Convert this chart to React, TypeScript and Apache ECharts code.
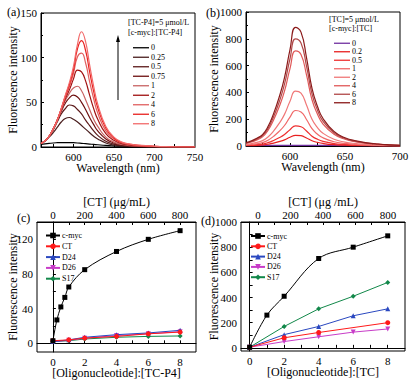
import React, { useEffect, useRef } from 'react';
import * as echarts from 'echarts';

const FONT = '"Liberation Serif", "Times New Roman", Times, serif';

// ---------- Panel (a): TC-P4 spectra ----------
const wlA = [560, 565, 570, 575, 580, 585, 590, 595, 600, 605, 610, 615, 620, 625, 630, 640, 650, 660, 670, 680, 700, 720, 750];
const ratioA = ['0', '0.25', '0.5', '0.75', '1', '2', '4', '6', '8'];
const specA_0 = [3, 3.5, 4, 4.5, 4.8, 5, 5, 5, 4.8, 4.5, 4.1, 3.7, 3.3, 2.9, 2.5, 1.8, 1.3, 0.9, 0.6, 0.4, 0.2, 0.1, 0];
const specA_025 = [4, 7, 11, 16, 22, 28, 32, 33, 31, 28, 24, 20, 16, 12, 9, 4.5, 2.3, 1.2, 0.7, 0.4, 0.2, 0.1, 0];
const specA_05 = [4, 7, 12, 19, 28, 37, 43, 47, 46, 42, 37, 30, 24, 18, 13, 6.5, 3.3, 1.7, 1, 0.6, 0.2, 0.1, 0];
const specA_075 = [4, 7, 12, 20, 30, 40, 49, 55, 58, 56, 50, 42, 33, 25, 18, 9, 4.5, 2.3, 1.3, 0.8, 0.3, 0.1, 0];
const specA_1 = [4, 7, 12, 20, 30, 41, 52, 60, 66, 68, 63, 53, 42, 31, 23, 11, 5.5, 2.8, 1.6, 1, 0.4, 0.1, 0];
const specA_2 = [4, 7, 12, 20, 30, 42, 54, 64, 76, 86, 84, 74, 58, 43, 31, 15, 7.5, 3.8, 2.2, 1.3, 0.5, 0.2, 0];
const specA_4 = [4, 7, 12, 20, 30, 43, 56, 67, 82, 101, 105, 94, 73, 54, 38, 18, 9, 4.5, 2.7, 1.6, 0.6, 0.2, 0];
const specA_6 = [4, 7, 12, 20, 30, 43, 57, 70, 86, 110, 119, 108, 84, 62, 44, 21, 10, 5, 3, 1.8, 0.7, 0.3, 0];
const specA_8 = [4, 7, 12, 20, 30, 43, 58, 72, 90, 115, 129, 118, 92, 68, 48, 23, 11, 5.5, 3.2, 2, 0.8, 0.3, 0];
const specsA = [specA_0, specA_025, specA_05, specA_075, specA_1, specA_2, specA_4, specA_6, specA_8];
const colorsA = ['#000000', '#4a1f1f', '#5c1a1a', '#6e1010', '#c86464', '#a01010', '#e06060', '#e8211f', '#f26a6a'];

// ---------- Panel (b): TC spectra ----------
const wlB = [560, 565, 570, 575, 580, 585, 590, 595, 600, 605, 610, 615, 620, 625, 630, 640, 650, 660, 670, 680, 690, 700];
const ratioB = ['0', '0.2', '0.5', '1', '2', '4', '6', '8'];
const specB_0 = [3, 3, 3, 4, 4, 4, 5, 5, 5, 5, 5, 5, 5, 4, 4, 4, 3, 3, 3, 2, 2, 2];
const specB_02 = [2, 3, 5, 8, 13, 22, 33, 46, 65, 80, 77, 60, 39, 27, 19, 10, 6, 3, 2, 1, 1, 0];
const specB_05 = [4, 6, 10, 14, 25, 41, 61, 86, 122, 150, 144, 112, 73, 50, 35, 18, 11, 6, 4, 2, 1, 1];
const specB_1 = [8, 11, 17, 25, 43, 72, 108, 153, 216, 265, 254, 198, 129, 88, 61, 32, 19, 11, 7, 4, 3, 1];
const specB_2 = [12, 18, 27, 40, 67, 111, 167, 236, 334, 410, 394, 306, 199, 137, 95, 50, 29, 18, 11, 7, 4, 2];
const specB_4 = [20, 30, 46, 68, 116, 193, 289, 409, 578, 710, 682, 530, 345, 237, 164, 87, 50, 30, 19, 12, 7, 4];
const specB_6 = [22, 34, 52, 77, 130, 217, 325, 461, 651, 800, 768, 597, 389, 267, 185, 98, 56, 34, 22, 14, 8, 5];
const specB_8 = [25, 38, 58, 85, 145, 240, 360, 510, 720, 885, 850, 660, 430, 295, 205, 108, 62, 38, 24, 15, 9, 5];
const specsB = [specB_0, specB_02, specB_05, specB_1, specB_2, specB_4, specB_6, specB_8];
const colorsB = ['#7030a0', '#e82020', '#ee3030', '#f06868', '#f07878', '#e05858', '#b04848', '#8b1a1a'];

// ---------- Panel (c): TC-P4 titration ----------
const xC_cmyc = [0, 0.25, 0.5, 0.75, 1, 2, 4, 6, 8];
const yC_cmyc = [3, 27, 42, 53, 65, 85, 106, 120, 130];
const xC = [0, 1, 2, 4, 6, 8];
const yC_CT = [3, 4, 6, 8, 11, 13];
const yC_D24 = [2, 4, 7, 10, 12, 15];
const yC_D26 = [2, 3.5, 6, 9, 11, 13.5];
const yC_S17 = [2, 3, 5, 7, 8, 8.5];

// ---------- Panel (d): TC titration ----------
const xD_cmyc = [0, 1, 2, 4, 6, 8];
const yD_cmyc = [5, 260, 410, 710, 800, 890];
const xD_CT = [0, 2, 4, 8];
const yD_CT = [5, 80, 122, 200];
const xD = [0, 2, 4, 6, 8];
const yD_D24 = [5, 105, 170, 255, 310];
const yD_D26 = [5, 50, 88, 125, 150];
const yD_S17 = [5, 170, 310, 410, 520];

const seriesNames = ['c-myc', 'CT', 'D24', 'D26', 'S17'];
const seriesColors = ['#000000', '#ff1a1a', '#2a48c0', '#c83cc8', '#12884a'];
const seriesSymbols = ['rect', 'circle', 'triangle', 'triangle', 'diamond'];
const seriesRot = [0, 0, 0, 180, 0];

const zip = (xs: number[], ys: number[]) => xs.map((x, i) => [x, ys[i]]);
const plain = (v: number) => String(v);

const axisCommon = {
  axisLine: { lineStyle: { color: '#000', width: 1 } },
  axisTick: { inside: true, length: 3, lineStyle: { color: '#000' } },
  axisLabel: { color: '#000', fontSize: 11, fontFamily: FONT, margin: 4, formatter: plain },
  splitLine: { show: false },
  nameTextStyle: { color: '#000', fontSize: 12, fontFamily: FONT },
  nameLocation: 'middle' as const,
  nameMoveOverlap: false,
};

function xAx(grid: number, min: number, max: number, labels: number[], ticks: number[], extra: any = {}) {
  return {
    ...axisCommon,
    type: 'value',
    gridIndex: grid,
    min,
    max,
    axisLabel: { ...axisCommon.axisLabel, customValues: labels },
    axisTick: { ...axisCommon.axisTick, customValues: ticks },
    ...extra,
  };
}

export default function App() {
  const ref = useRef<HTMLDivElement>(null);
  useEffect(() => {
    if (!ref.current) return;
    const chart = echarts.init(ref.current, undefined, { renderer: 'svg' });
    const fmt = (n: string) => n.split('|')[1];

    const series: any[] = [];
    ratioA.forEach((r, i) => {
      series.push({
        type: 'line', name: 'a|' + r, xAxisIndex: 0, yAxisIndex: 0,
        data: zip(wlA, specsA[i]), smooth: true, symbol: 'none',
        lineStyle: { width: 1.2, color: colorsA[i] }, itemStyle: { color: colorsA[i] },
      });
    });
    ratioB.forEach((r, i) => {
      series.push({
        type: 'line', name: 'b|' + r, xAxisIndex: 1, yAxisIndex: 1,
        data: zip(wlB, specsB[i]), smooth: true, symbol: 'none',
        lineStyle: { width: 1.2, color: colorsB[i] }, itemStyle: { color: colorsB[i] },
      });
    });
    const cData = [zip(xC_cmyc, yC_cmyc), zip(xC, yC_CT), zip(xC, yC_D24), zip(xC, yC_D26), zip(xC, yC_S17)];
    const dData = [zip(xD_cmyc, yD_cmyc), zip(xD_CT, yD_CT), zip(xD, yD_D24), zip(xD, yD_D26), zip(xD, yD_S17)];
    seriesNames.forEach((n, i) => {
      series.push({
        type: 'line', name: 'c|' + n, xAxisIndex: 2, yAxisIndex: 2,
        data: cData[i], smooth: i === 0 ? 0.35 : false,
        symbol: seriesSymbols[i], symbolRotate: seriesRot[i], symbolSize: 5,
        lineStyle: { width: 1, color: seriesColors[i] }, itemStyle: { color: seriesColors[i] },
        z: 10 - i,
      });
    });
    seriesNames.forEach((n, i) => {
      series.push({
        type: 'line', name: 'd|' + n, xAxisIndex: 4, yAxisIndex: 3,
        data: dData[i], smooth: i === 0 ? 0.35 : false,
        symbol: seriesSymbols[i], symbolRotate: seriesRot[i], symbolSize: 5,
        lineStyle: { width: 1, color: seriesColors[i] }, itemStyle: { color: seriesColors[i] },
        z: 10 - i,
      });
    });

    const legendBase = {
      orient: 'vertical' as const,
      selectedMode: false,
      formatter: fmt,
      textStyle: { fontSize: 8, fontFamily: FONT, color: '#000', padding: [0, 0, 0, -3] },
    };

    const small = { fontSize: 8, fontFamily: FONT, fill: '#000' };
    const label = { fontSize: 12, fontFamily: FONT, fill: '#000' };
    const gridBase = { show: true, borderColor: '#000', borderWidth: 1, containLabel: false };
    const topLabel = { ...axisCommon.axisLabel, margin: 2, customValues: [0, 200, 400, 600, 800] };

    chart.setOption({
      animation: false,
      backgroundColor: '#fff',
      textStyle: { fontFamily: FONT },
      grid: [
        { ...gridBase, left: 41, top: 13, width: 154, height: 134 },
        { ...gridBase, left: 246, top: 12, width: 154, height: 134 },
        { ...gridBase, left: 37, top: 222, width: 159, height: 130 },
        { ...gridBase, left: 241, top: 222, width: 164, height: 129 },
      ],
      xAxis: [
        xAx(0, 560, 750, [600, 650, 700, 750], [575, 600, 625, 650, 675, 700, 725], { name: 'Wavelength (nm)', nameGap: 15 }),
        xAx(1, 560, 700, [600, 650, 700], [575, 600, 625, 650, 675], { name: 'Wavelength (nm)', nameGap: 15 }),
        xAx(2, -1, 9, [0, 2, 4, 6, 8], [0, 1, 2, 3, 4, 5, 6, 7, 8], { name: '[Oligonucleotide]:[TC-P4]', nameGap: 15 }),
        xAx(2, -100, 900, [0, 200, 400, 600, 800], [0, 100, 200, 300, 400, 500, 600, 700, 800], { position: 'top', name: '[CT] (μg/mL)', nameGap: 14.5, axisLabel: topLabel }),
        xAx(3, -0.5, 9, [0, 2, 4, 6, 8], [0, 1, 2, 3, 4, 5, 6, 7, 8], { name: '[Oligonucleotide]:[TC]', nameGap: 15 }),
        xAx(3, -105, 905, [0, 200, 400, 600, 800], [0, 100, 200, 300, 400, 500, 600, 700, 800], { position: 'top', name: '[CT] (μg /mL)', nameGap: 14.5, axisLabel: topLabel }),
      ],
      yAxis: [
        { ...axisCommon, type: 'value', gridIndex: 0, min: 0, max: 150, interval: 50, minorTick: { show: true, splitNumber: 2, length: 2 }, name: 'Fluorescence intensity', nameGap: 22 },
        { ...axisCommon, type: 'value', gridIndex: 1, min: 0, max: 1000, interval: 200, minorTick: { show: true, splitNumber: 2, length: 2 }, name: 'Fluorescence intensity', nameGap: 26 },
        { ...axisCommon, type: 'value', gridIndex: 2, min: -10, max: 140,
          axisLabel: { ...axisCommon.axisLabel, customValues: [0, 40, 80, 120] },
          axisTick: { ...axisCommon.axisTick, customValues: [0, 20, 40, 60, 80, 100, 120] },
          name: 'Fluorescence intensity', nameGap: 18 },
        { ...axisCommon, type: 'value', gridIndex: 3, min: -25, max: 1000,
          axisLabel: { ...axisCommon.axisLabel, customValues: [0, 200, 400, 600, 800, 1000] },
          axisTick: { ...axisCommon.axisTick, customValues: [0, 100, 200, 300, 400, 500, 600, 700, 800, 900, 1000] },
          name: 'Fluorescence intensity', nameGap: 21 },
      ],
      legend: [
        { ...legendBase, data: ratioA.map((r) => 'a|' + r), left: 128, top: 38, icon: 'rect', itemWidth: 16, itemHeight: 1.3, itemGap: 0, textStyle: { ...legendBase.textStyle, lineHeight: 9.5 } },
        { ...legendBase, data: ratioB.map((r) => 'b|' + r), left: 329, top: 34, icon: 'rect', itemWidth: 16, itemHeight: 1.3, itemGap: 0, textStyle: { ...legendBase.textStyle, lineHeight: 8.5 } },
        { ...legendBase, data: seriesNames.map((n) => 'c|' + n), left: 40, top: 226.5, itemWidth: 14, itemHeight: 7, itemGap: 2.8 },
        { ...legendBase, data: seriesNames.map((n) => 'd|' + n), left: 245, top: 227, itemWidth: 14, itemHeight: 7, itemGap: 2.3 },
      ],
      graphic: [
        { type: 'text', left: 7, top: 6, style: { ...label, text: '(a)' } },
        { type: 'text', left: 206, top: 7, style: { ...label, text: '(b)' } },
        { type: 'text', left: 17, top: 212, style: { ...label, text: '(c)' } },
        { type: 'text', left: 201, top: 215, style: { ...label, text: '(d)' } },
        { type: 'text', left: 128, top: 18, style: { ...small, text: '[TC-P4]=5 μmol/L' } },
        { type: 'text', left: 128, top: 28, style: { ...small, text: '[c-myc]:[TC-P4]' } },
        { type: 'text', left: 329, top: 15, style: { ...small, text: '[TC]=5 μmol/L' } },
        { type: 'text', left: 329, top: 24, style: { ...small, text: '[c-myc]:[TC]' } },
        { type: 'line', shape: { x1: 118, y1: 100, x2: 118, y2: 40 }, style: { stroke: '#000', lineWidth: 1 } },
        { type: 'polygon', shape: { points: [[118, 35], [116, 42], [120, 42]] }, style: { fill: '#000' } },
      ],
      series,
    });
    return () => chart.dispose();
  }, []);
  return <div ref={ref} style={{ position: 'absolute', left: 0, top: 0, width: 416, height: 383, background: '#fff' }} />;
}
